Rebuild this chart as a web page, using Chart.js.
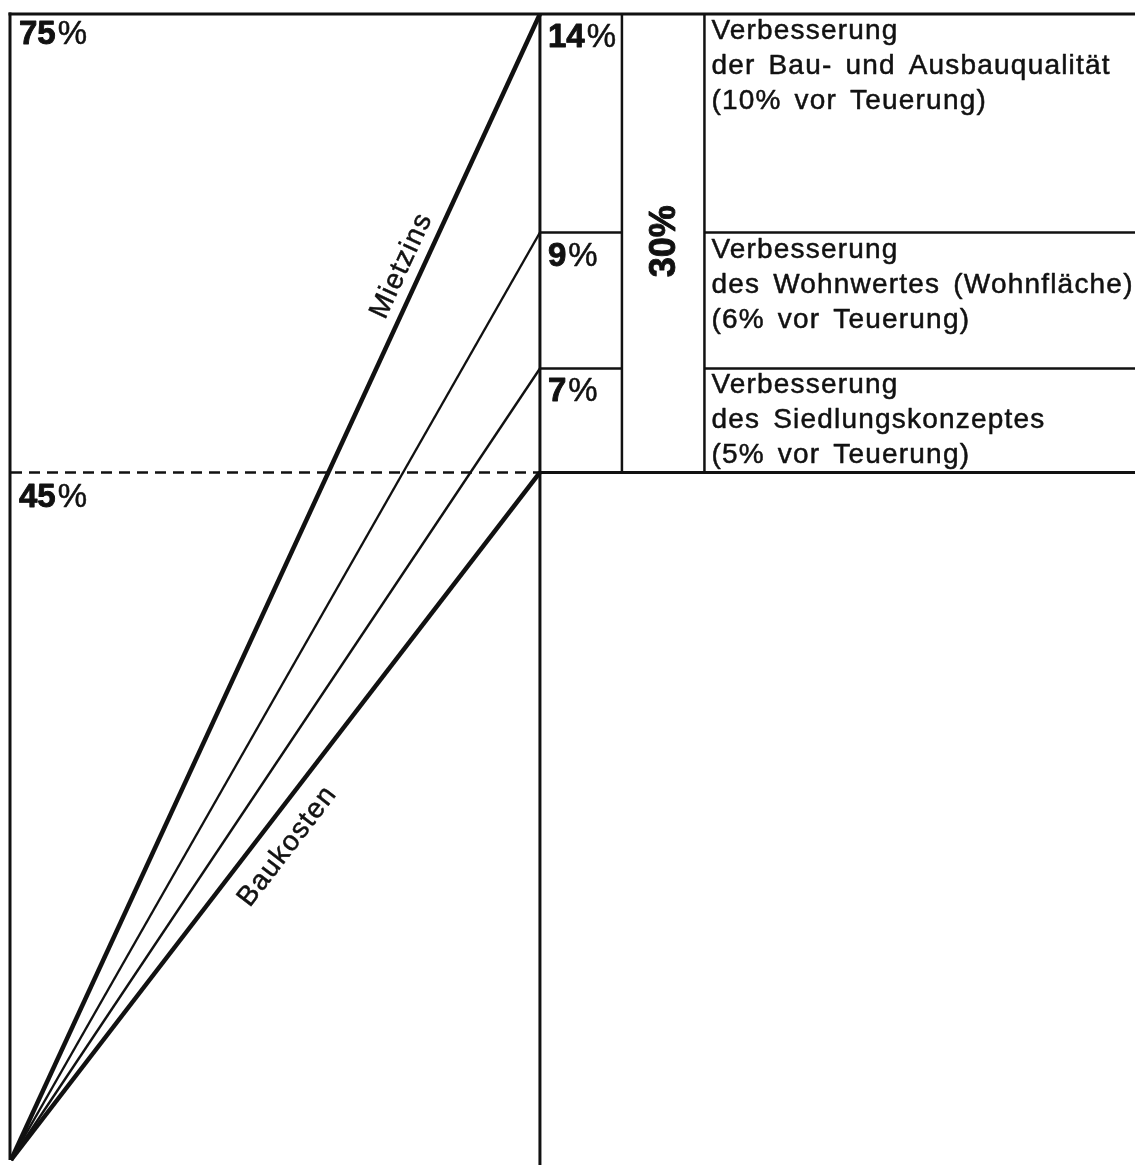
<!DOCTYPE html>
<html>
<head>
<meta charset="utf-8">
<script src="https://cdn.jsdelivr.net/npm/chart.js@4/dist/chart.umd.min.js"></script>
<style>
  body { margin: 0; background: #fff; }
  #wrap { width: 1135px; height: 1165px; }
</style>
</head>
<body>
<div id="wrap"><canvas id="chartMietzins"></canvas></div>
<script>
// shares reached at the right end of each ray (bottom to top)
const shareEnds = [45, 51.8, 60.7, 75]
const lineNames = ['Baukosten', '', '', 'Mietzins']
const edgeLabels = ['45', '75']
const stepLabels = ['7', '9', '14']
const totalLabel = '30'
const stepTexts = [
  ['Verbesserung', 'des Siedlungskonzeptes', '(5% vor Teuerung)'],
  ['Verbesserung', 'des Wohnwertes (Wohnfläche)', '(6% vor Teuerung)'],
  ['Verbesserung', 'der Bau- und Ausbauqualität', '(10% vor Teuerung)']
]

// layout (data units on x)
const xMax = 2.125
const colEdges = [1, 1.155, 1.311]
const ink = '#111'
const fontFamily = '"Liberation Sans", Arial, sans-serif'

const datasets = []
for (var i = 0; i < shareEnds.length; i++) {
  const thick = lineNames[i] !== ''
  datasets.push({
    data: [{x: 0, y: 0}, {x: 1, y: shareEnds[i]}],
    borderColor: ink,
    borderWidth: thick ? 4.5 : 2.4,
    showLine: true,
    pointRadius: 0,
    clip: false
  })
}
datasets.push({
  data: [{x: 0, y: shareEnds[0]}, {x: 1, y: shareEnds[0]}],
  borderColor: ink, borderWidth: 2.5, borderDash: [11, 7],
  showLine: true, pointRadius: 0, clip: false
})
datasets.push({
  data: [{x: 1, y: shareEnds[0]}, {x: xMax, y: shareEnds[0]}],
  borderColor: ink, borderWidth: 3,
  showLine: true, pointRadius: 0, clip: false
})

function inkText(ctx, txt, x, y, weight) {
  ctx.lineWidth = weight
  ctx.strokeText(txt, x, y)
  ctx.fillText(txt, x, y)
}

function pctText(ctx, num, x, y, size) {
  ctx.font = 'bold ' + size + 'px ' + fontFamily
  inkText(ctx, num, x, y, 0.9)
  const w = ctx.measureText(num).width
  ctx.font = size + 'px ' + fontFamily
  inkText(ctx, '%', x + w + 2, y, 0.5)
}

const framePlugin = {
  id: 'frame',
  afterDatasetsDraw(chart) {
    const ctx = chart.ctx
    const xs = chart.scales.x
    const ys = chart.scales.y
    const X = v => xs.getPixelForValue(v)
    const Y = v => ys.getPixelForValue(v)
    const top = Y(shareEnds[3])
    const base = Y(shareEnds[0])
    const right = chart.width

    ctx.save()
    ctx.strokeStyle = ink
    ctx.lineCap = 'butt'
    ctx.lineJoin = 'round'

    function seg(x1, y1, x2, y2, w) {
      ctx.lineWidth = w
      ctx.beginPath()
      ctx.moveTo(x1, y1)
      ctx.lineTo(x2, y2)
      ctx.stroke()
    }

    seg(X(0) - 1, top - 1.5, X(0) - 1, Y(0), 3)
    seg(X(0) - 2.5, top, right, top, 3)
    seg(X(colEdges[0]), top, X(colEdges[0]), chart.height, 3)
    seg(X(colEdges[1]), top, X(colEdges[1]), base, 2.5)
    seg(X(colEdges[2]), top, X(colEdges[2]), base, 2.5)
    for (var k = 1; k < 3; k++) {
      const yy = Y(shareEnds[k])
      seg(X(colEdges[0]), yy, X(colEdges[1]), yy, 2.5)
      seg(X(colEdges[2]), yy, right, yy, 2.5)
    }

    ctx.fillStyle = ink
    ctx.textBaseline = 'alphabetic'
    ctx.textAlign = 'left'

    pctText(ctx, edgeLabels[1], X(0) + 8, top + 30, 33)
    pctText(ctx, edgeLabels[0], X(0) + 8, base + 35, 33)

    for (var s = 0; s < stepLabels.length; s++) {
      const yTop = Y(shareEnds[s + 1])
      pctText(ctx, stepLabels[s], X(colEdges[0]) + 8, yTop + 33, 33)

      ctx.font = '28px ' + fontFamily
      ctx.letterSpacing = '1.2px'
      ctx.wordSpacing = '4px'
      for (var l = 0; l < stepTexts[s].length; l++) {
        inkText(ctx, stepTexts[s][l], X(colEdges[2]) + 7, yTop + 25 + l * 35, 0.5)
      }
      ctx.letterSpacing = '0px'
      ctx.wordSpacing = '0px'
    }

    ctx.save()
    ctx.translate((X(colEdges[1]) + X(colEdges[2])) / 2 + 2, (top + base) / 2 - 2)
    ctx.rotate(-Math.PI / 2)
    ctx.textAlign = 'center'
    ctx.textBaseline = 'middle'
    ctx.font = 'bold 36px ' + fontFamily
    inkText(ctx, totalLabel + '%', 0, 0, 0.9)
    ctx.restore()

    // names along the two outer rays
    const along = [0.481, 0, 0, 0.773]
    const offset = [28, 0, 0, -20]
    for (var r = 0; r < lineNames.length; r++) {
      if (!lineNames[r]) continue
      const x0 = X(0), y0 = Y(0)
      const x1 = X(1), y1 = Y(shareEnds[r])
      const ang = Math.atan2(y1 - y0, x1 - x0)
      ctx.save()
      ctx.translate(x0 + (x1 - x0) * along[r], y0 + (y1 - y0) * along[r])
      ctx.rotate(ang)
      ctx.textAlign = 'center'
      ctx.textBaseline = 'middle'
      ctx.font = '28px ' + fontFamily
      ctx.letterSpacing = '1.3px'
      inkText(ctx, lineNames[r], 0, offset[r], 0.5)
      ctx.restore()
    }
    ctx.restore()
  }
}

new Chart(document.getElementById('chartMietzins'), {
  type: 'scatter',
  data: { datasets: datasets },
  options: {
    responsive: true,
    maintainAspectRatio: false,
    animation: false,
    layout: { padding: { left: 11, right: 0, top: 14, bottom: 5 } },
    plugins: { legend: { display: false }, tooltip: { enabled: false } },
    scales: {
      x: { type: 'linear', min: 0, max: xMax, display: false },
      y: { type: 'linear', min: 0, max: 75, display: false }
    }
  },
  plugins: [framePlugin]
})
</script>
</body>
</html>
